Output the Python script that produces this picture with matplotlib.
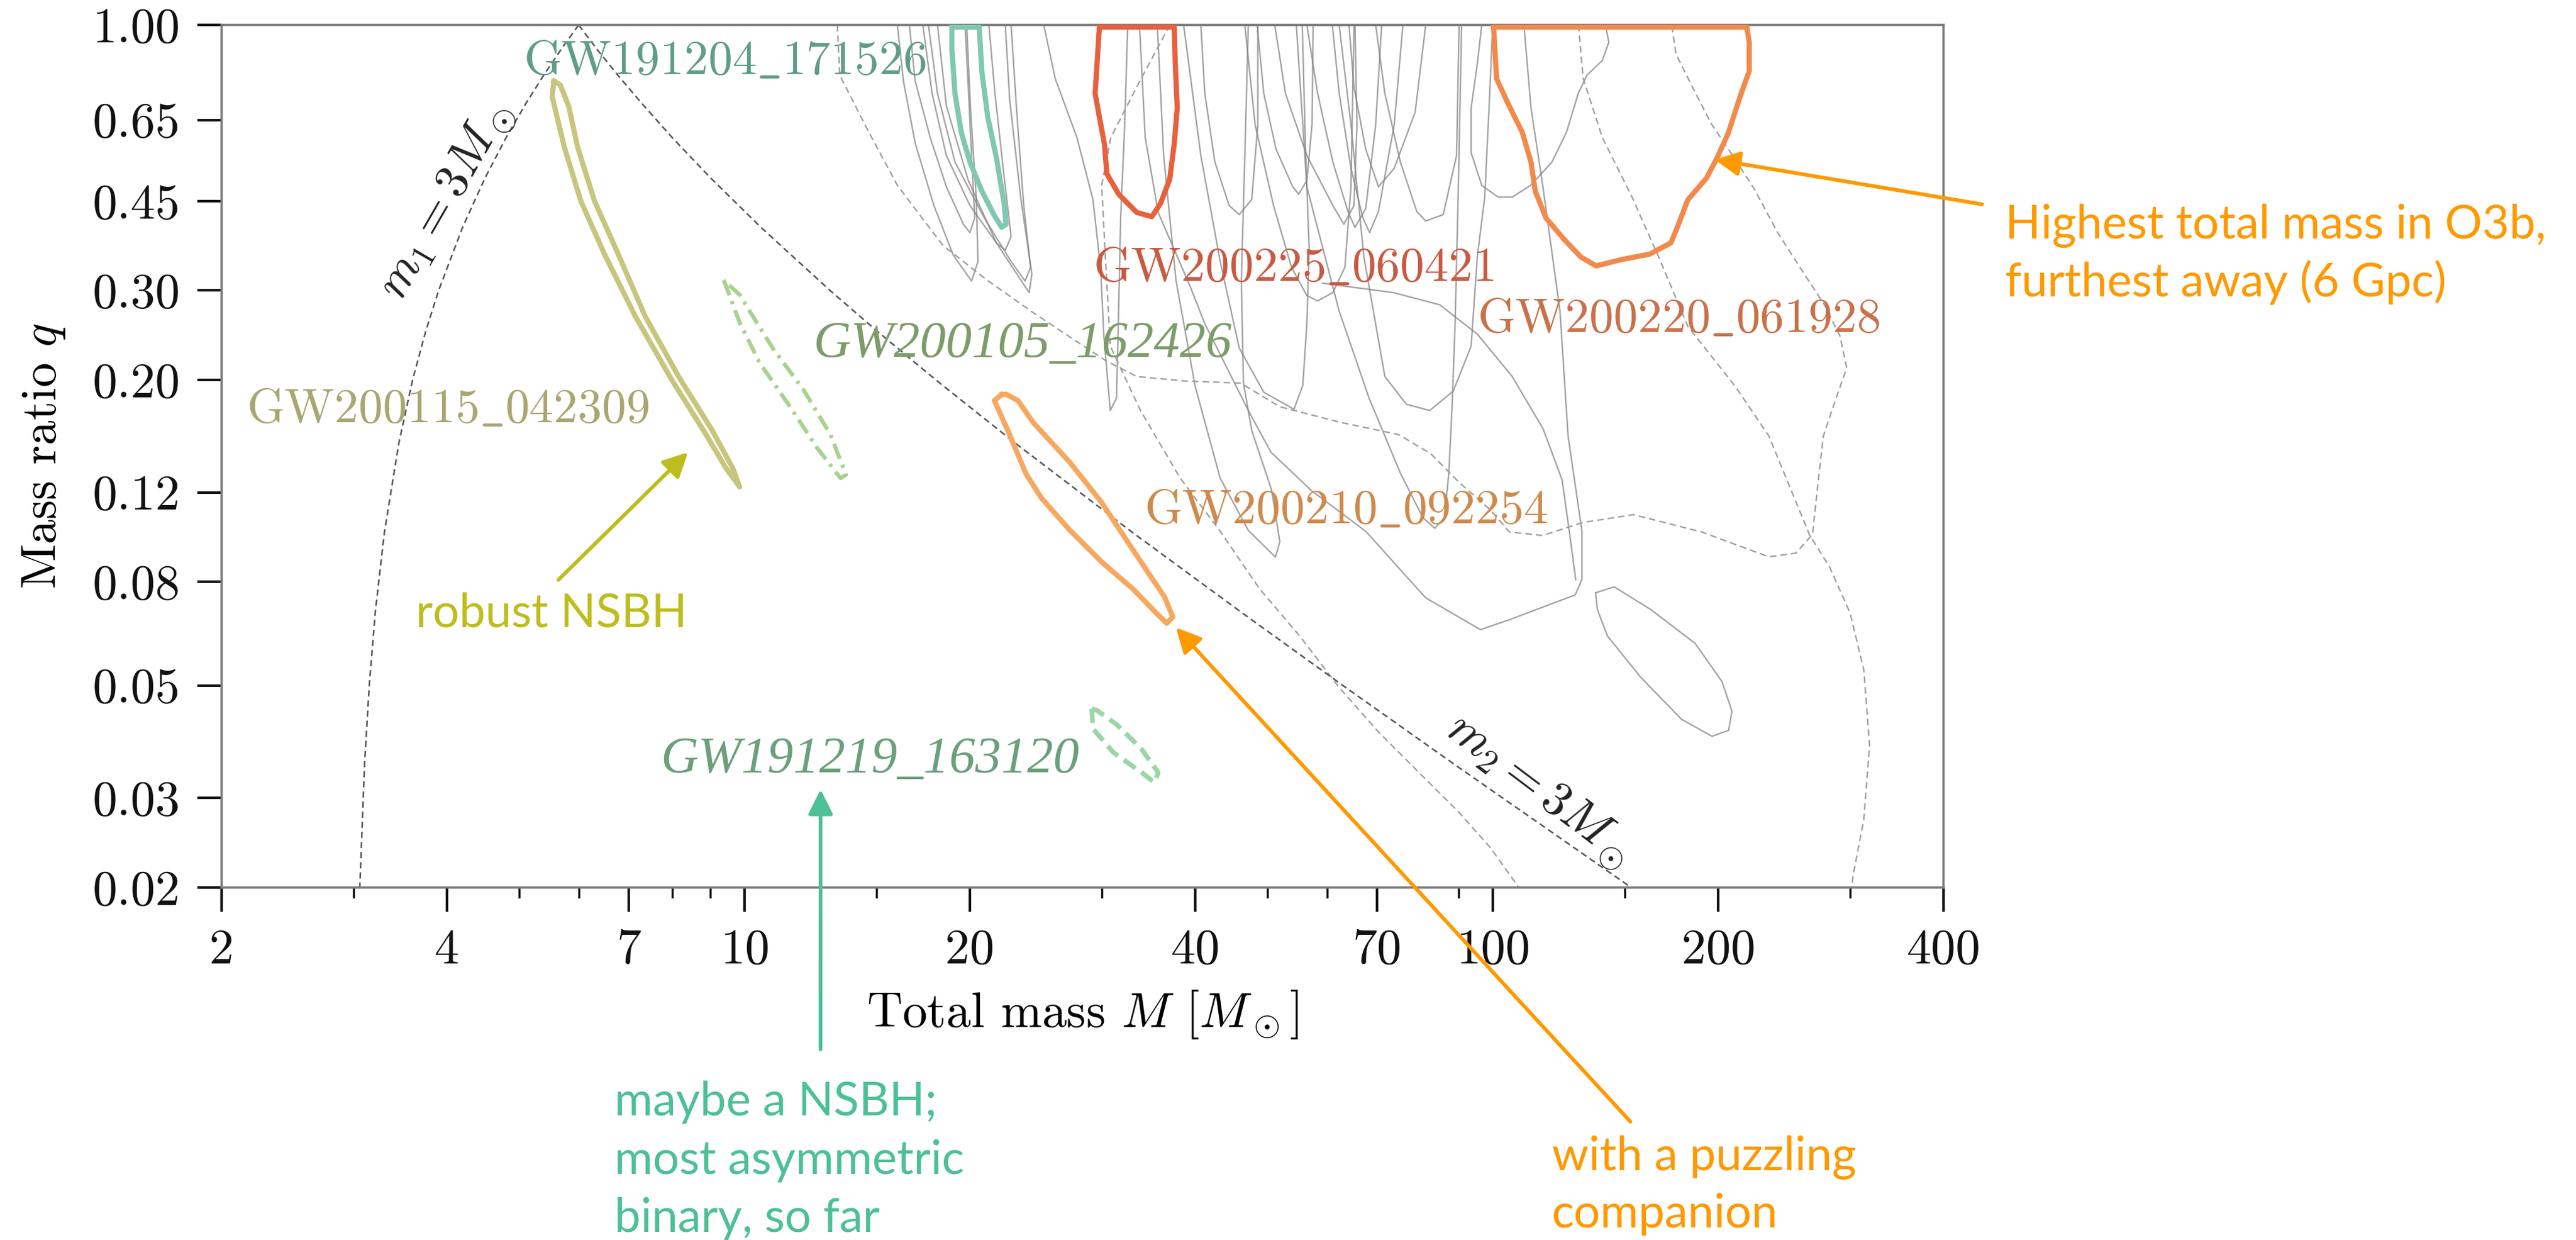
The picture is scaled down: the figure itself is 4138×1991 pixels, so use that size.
import matplotlib
matplotlib.use('Agg')
import matplotlib.pyplot as plt
from matplotlib.ticker import FixedLocator, FixedFormatter, NullLocator

plt.rcParams['font.family'] = 'serif'
plt.rcParams['font.serif'] = ['cmr10']
plt.rcParams['mathtext.fontset'] = 'cm'
plt.rcParams['axes.unicode_minus'] = False
plt.rcParams['axes.formatter.use_mathtext'] = True

# ---- axes ticks ----
x_ticks = [2, 4, 7, 10, 20, 40, 70, 100, 200, 400]
x_minor = [3, 5, 6, 8, 9, 15, 30, 50, 60, 90, 150, 300]
y_ticks = [0.02, 0.03, 0.05, 0.08, 0.12, 0.20, 0.30, 0.45, 0.65, 1.00]
y_ticklabels = ['0.02', '0.03', '0.05', '0.08', '0.12', '0.20', '0.30', '0.45', '0.65', '1.00']

# ---- m1 = 3 Msun and m2 = 3 Msun boundaries ----
bound_q = [1.0, 0.9, 0.8, 0.7, 0.6, 0.5, 0.4, 0.3, 0.25, 0.2, 0.15, 0.1, 0.07, 0.05, 0.035, 0.02]
m1_M = [6.0, 5.7, 5.4, 5.1, 4.8, 4.5, 4.2, 3.9, 3.75, 3.6, 3.45, 3.3, 3.21, 3.15, 3.105, 3.06]
m2_M = [6.0, 6.33, 6.75, 7.29, 8.0, 9.0, 10.5, 13.0, 15.0, 18.0, 23.0, 33.0, 45.9, 63.0, 88.7, 153.0]

# ---- highlighted 90% credible regions ----
gw200115_M = [5.56, 5.53, 5.74, 6.04, 6.50, 7.14, 7.99, 8.88, 9.44, 9.85, 9.64, 9.05, 8.16, 7.36, 6.78, 6.30, 5.98, 5.82, 5.67]
gw200115_q = [0.775, 0.723, 0.575, 0.450, 0.353, 0.267, 0.200, 0.156, 0.134, 0.123, 0.134, 0.159, 0.203, 0.267, 0.353, 0.450, 0.575, 0.691, 0.762]

gw200105_M = [9.38, 9.85, 10.47, 11.5, 12.49, 13.43, 13.66, 13.02, 11.99, 10.92, 10.25, 9.85]
gw200105_q = [0.314, 0.259, 0.216, 0.177, 0.147, 0.128, 0.130, 0.156, 0.191, 0.230, 0.267, 0.294]

gw191219_M = [29.1, 29.2, 31.1, 33.9, 35.3, 35.7, 33.9, 31.4, 29.6]
gw191219_q = [0.0450, 0.0411, 0.0369, 0.0337, 0.0322, 0.0337, 0.0375, 0.0419, 0.0446]

gw200210_M = [22.05, 21.56, 22.47, 23.77, 24.93, 27.18, 29.96, 33.04, 35.53, 36.65, 37.34, 36.42, 33.04, 29.96, 27.18, 24.32, 23.18, 22.35]
gw200210_q = [0.187, 0.182, 0.159, 0.1305, 0.1169, 0.1012, 0.0877, 0.0774, 0.0693, 0.0663, 0.0682, 0.0746, 0.0924, 0.1149, 0.1377, 0.1645, 0.1821, 0.1873]

gw191204_M = [18.92, 18.92, 19.1, 19.47, 20.0, 20.75, 21.56, 22.05, 22.35, 22.22, 21.71, 21.13, 20.75, 20.58]
gw191204_q = [0.99, 0.898, 0.733, 0.615, 0.537, 0.4705, 0.4213, 0.3994, 0.405, 0.4445, 0.545, 0.658, 0.807, 0.99]

gw200225_M = [29.79, 29.4, 29.79, 30.25, 30.48, 31.62, 33.42, 35.0, 35.94, 36.98, 37.5, 37.85, 37.62, 37.5]
gw200225_q = [0.99, 0.733, 0.658, 0.583, 0.509, 0.4637, 0.4272, 0.419, 0.4445, 0.4963, 0.583, 0.687, 0.839, 0.99]

gw200220_M = [100.2, 101.1, 104.5, 109.4, 112.4, 113.9, 117.7, 124.4, 131.2, 137.4, 148.1, 162.0, 172.9, 176.6, 182.1, 192.9, 198.8, 206.2, 213.8, 220.0, 220.0, 218.4]
gw200220_q = [0.99, 0.784, 0.705, 0.615, 0.537, 0.4705, 0.4166, 0.3784, 0.3486, 0.3352, 0.3447, 0.3537, 0.3722, 0.4016, 0.4521, 0.4992, 0.5433, 0.6117, 0.7207, 0.811, 0.924, 0.99]

# ---- remaining O3b events (grey, closed) ----
grey_solid = [
    ([16.0, 16.3, 16.9, 17.9, 19.0, 20.1, 20.5, 20.4, 20.05, 19.8],
     [1.0, 0.775, 0.585, 0.441, 0.352, 0.313, 0.342, 0.453, 0.673, 1.0]),
    ([16.6, 16.9, 17.7, 18.6, 19.6, 20.0, 20.3, 20.1, 19.9, 19.7],
     [1.0, 0.775, 0.6, 0.48, 0.405, 0.39, 0.417, 0.553, 0.754, 1.0]),
    ([17.3, 17.8, 18.6, 20.0, 21.7, 22.3, 22.7, 22.2, 21.6, 21.2],
     [1.0, 0.733, 0.553, 0.441, 0.372, 0.36, 0.383, 0.508, 0.733, 1.0]),
    ([17.6, 18.1, 19.1, 20.9, 22.7, 23.7, 24.1, 23.6, 23.1, 22.7],
     [1.0, 0.733, 0.537, 0.417, 0.342, 0.313, 0.333, 0.441, 0.673, 1.0]),
    ([18.1, 18.6, 19.9, 21.7, 23.4, 24.0, 24.2, 23.4, 22.6, 22.3],
     [1.0, 0.693, 0.494, 0.372, 0.314, 0.297, 0.323, 0.453, 0.713, 1.0]),
    ([25.1, 26.0, 27.8, 29.2, 29.9, 30.2, 30.8, 31.4, 31.6, 31.8, 32.2, 32.5],
     [1.0, 0.784, 0.6, 0.453, 0.332, 0.244, 0.174, 0.184, 0.273, 0.417, 0.636, 1.0]),
    ([33.7, 34.3, 35.7, 39.4, 41.2, 47.1, 50.5, 57.2, 67.6, 81.3, 96.2, 104.7, 128.8, 131.5, 131.5, 126.0, 122.9, 116.6, 112.4, 110.0],
     [1.0, 0.6, 0.427, 0.305, 0.258, 0.174, 0.144, 0.121, 0.1006, 0.0744, 0.0644, 0.0672, 0.0754, 0.0809, 0.1006, 0.155, 0.273, 0.48, 0.687, 1.0]),
    ([48.4, 49.4, 51.3, 54.0, 55.0, 56.4, 57.3, 57.5],
     [1.0, 0.733, 0.569, 0.48, 0.464, 0.494, 0.636, 1.0]),
    ([51.1, 52.8, 56.4, 61.1, 63.2, 65.2, 65.8, 65.4],
     [1.0, 0.733, 0.553, 0.441, 0.405, 0.441, 0.636, 1.0]),
    ([56.4, 58.3, 61.1, 64.0, 65.4, 67.6, 69.7, 71.0],
     [1.0, 0.733, 0.537, 0.429, 0.399, 0.435, 0.636, 1.0]),
    ([61.0, 62.3, 64.6, 67.0, 68.4, 70.3, 73.8, 75.8],
     [1.0, 0.733, 0.522, 0.417, 0.39, 0.429, 0.636, 1.0]),
    ([64.2, 65.2, 67.6, 70.3, 73.8, 78.7, 81.3],
     [1.0, 0.754, 0.569, 0.48, 0.522, 0.673, 1.0]),
    ([69.7, 71.7, 75.2, 79.1, 81.3, 85.8, 89.4, 90.1],
     [1.0, 0.733, 0.537, 0.429, 0.411, 0.423, 0.553, 1.0]),
    ([96.6, 95.3, 93.5, 93.5, 96.6, 101.6, 106.1, 112.3, 119.9, 125.4, 130.0, 133.5, 140.0, 142.8, 141.4],
     [1.0, 0.839, 0.687, 0.56, 0.483, 0.458, 0.458, 0.483, 0.537, 0.615, 0.733, 0.796, 0.851, 0.924, 1.0]),
    ([40.7, 41.2, 42.5, 44.4, 45.8, 47.6, 48.5, 48.5],
     [1.0, 0.733, 0.537, 0.441, 0.423, 0.453, 0.636, 1.0]),
    ([46.6, 48.1, 50.9, 53.8, 56.4, 58.3, 61.1, 63.4, 64.6, 65.2],
     [1.0, 0.636, 0.441, 0.333, 0.293, 0.286, 0.297, 0.333, 0.48, 1.0]),
    ([38.6, 40.7, 43.2, 45.8, 49.4, 54.2, 55.7, 56.4, 56.8, 56.2, 55.6],
     [1.0, 0.553, 0.342, 0.231, 0.189, 0.175, 0.195, 0.258, 0.362, 0.553, 1.0]),
    ([62.3, 64.6, 67.2, 69.4, 71.7, 76.6, 82.3, 88.5, 93.5, 95.3, 97.5, 99.0, 99.9],
     [1.0, 0.636, 0.35, 0.267, 0.203, 0.179, 0.174, 0.19, 0.233, 0.35, 0.458, 0.733, 1.0]),
    ([35.6, 36.3, 37.7, 40.0, 43.2, 47.1, 51.2, 51.9, 50.6, 47.6, 46.4, 46.1, 46.6, 47.1],
     [1.0, 0.553, 0.314, 0.194, 0.128, 0.101, 0.0895, 0.0959, 0.1213, 0.159, 0.197, 0.314, 0.553, 1.0]),
    ([54.6, 56.4, 62.3, 68.3, 75.2, 80.6, 83.6, 86.1, 87.3, 88.2, 89.0, 89.9, 90.8],
     [1.0, 0.48, 0.273, 0.184, 0.131, 0.107, 0.102, 0.107, 0.131, 0.179, 0.258, 0.48, 1.0]),
    ([137.1, 145.2, 162.6, 186.3, 202.3, 208.6, 206.5, 196.2, 178.6, 157.7, 142.2, 137.9],
     [0.0761, 0.0782, 0.0705, 0.0605, 0.0509, 0.0445, 0.0408, 0.0397, 0.0429, 0.0518, 0.0626, 0.0705]),
]
grey_arc_M = [59.2, 64.2, 73.6, 84.9, 95.3, 106.1, 116.7, 123.7, 126.7, 129.0]
grey_arc_q = [0.31, 0.305, 0.297, 0.281, 0.246, 0.203, 0.16, 0.127, 0.0987, 0.0808]

grey_dashed = [
    ([130.1, 132.0, 140.0, 153.4, 166.5, 182.1, 210.8, 233.7, 264.7, 282.0, 300.0, 313.0, 318.6, 313.0, 302.8, 301.6],
     [1.0, 0.784, 0.6, 0.458, 0.349, 0.255, 0.194, 0.155, 0.0992, 0.0853, 0.0695, 0.0537, 0.0381, 0.0272, 0.0211, 0.02]),
    ([13.3, 13.4, 14.65, 16.0, 18.4, 21.1, 24.4, 27.3, 30.4, 33.4, 38.6, 46.0, 51.9, 62.4, 74.8, 82.6, 89.9, 99.1, 105.2,
      116.5, 131.8, 154.1, 190.0, 233.7, 253.9, 267.3, 272.0, 276.4, 287.4, 297.0, 290.8, 277.3, 258.2, 240.1, 223.3,
      207.5, 195.6, 184.3, 175.6, 173.3],
     [1.0, 0.796, 0.615, 0.483, 0.368, 0.314, 0.27, 0.242, 0.218, 0.203, 0.199, 0.197, 0.177, 0.165, 0.156, 0.143, 0.126,
      0.111, 0.1003, 0.0987, 0.1047, 0.1085, 0.1003, 0.0896, 0.0911, 0.0992, 0.126, 0.155, 0.184, 0.211, 0.244, 0.281,
      0.33, 0.39, 0.476, 0.562, 0.64, 0.76, 0.876, 1.0]),
    ([37.0, 33.4, 30.85, 30.0, 30.3, 30.8, 33.8, 38.2, 43.2, 48.8, 55.2, 62.4, 70.4, 79.6, 89.9, 99.1, 108.3],
     [1.0, 0.754, 0.6, 0.483, 0.362, 0.233, 0.174, 0.128, 0.1006, 0.0774, 0.0625, 0.0494, 0.0404, 0.0337, 0.0282, 0.024, 0.02]),
]


def closed(vals):
    return list(vals) + [vals[0]]


fig = plt.figure(figsize=(41.38, 19.91), dpi=100)
ax = fig.add_axes([0.08603, 0.28428, 0.66844, 0.69563])
ax.set_xscale('log')
ax.set_yscale('log')
ax.set_xlim(2, 400)
ax.set_ylim(0.02, 1.0)

# background events
grey_kw = dict(color='#858585', lw=1.7, alpha=0.75, solid_joinstyle='round', zorder=1)
for M, q in grey_solid:
    ax.plot(closed(M), closed(q), **grey_kw)
ax.plot(grey_arc_M, grey_arc_q, **grey_kw)
for M, q in grey_dashed:
    ax.plot(M, q, color='#a0a0a0', lw=1.7, ls=(0, (4.5, 2.7)), zorder=1)

# component-mass boundaries
ax.plot(m1_M, bound_q, color='#555555', lw=1.8, ls=(0, (4, 2.5)), zorder=1.5)
ax.plot(m2_M, bound_q, color='#555555', lw=1.8, ls=(0, (4, 2.5)), zorder=1.5)
ax.text(4.0, 0.45, r'$m_1 = 3M_\odot$', rotation=60, rotation_mode='anchor',
        ha='center', va='center', fontsize=56, color='#222222')
ax.text(115, 0.0309, r'$m_2 = 3M_\odot$', rotation=-37, rotation_mode='anchor',
        ha='center', va='center', fontsize=56, color='#222222')

# highlighted events
hl_kw = dict(lw=6, solid_joinstyle='round', zorder=3)
ax.plot(closed(gw200115_M), closed(gw200115_q), color='#c8c67e', **hl_kw)
ax.plot(closed(gw200105_M), closed(gw200105_q), color='#a9d28f', lw=4.6,
        ls=(0, (4, 1.6, 0.8, 1.6)), zorder=3)
ax.plot(closed(gw191219_M), closed(gw191219_q), color='#9dd6a6', lw=5.5, ls=(0, (3, 1.5)), zorder=3)
ax.plot(closed(gw200210_M), closed(gw200210_q), color='#f7a860', **hl_kw)
ax.plot(closed(gw191204_M), closed(gw191204_q), color='#7fc8b2', **hl_kw)
ax.plot(closed(gw200225_M), closed(gw200225_q), color='#e8603c', **hl_kw)
ax.plot(closed(gw200220_M), closed(gw200220_q), color='#f28a4c', **hl_kw)

# event names
name_kw = dict(fontsize=56, ha='left', va='baseline', zorder=4)
ax.text(5.06, 0.80, r'$\mathrm{GW191204}\mathtt{\_}\mathrm{171526}$', color='#5f9d88', **name_kw)
ax.text(2.16, 0.165, r'$\mathrm{GW200115}\mathtt{\_}\mathrm{042309}$', color='#a9a771', **name_kw)
ax.text(29.2, 0.313, r'$\mathrm{GW200225}\mathtt{\_}\mathrm{060421}$', color='#c95a42', **name_kw)
ax.text(95.2, 0.2485, r'$\mathrm{GW200220}\mathtt{\_}\mathrm{061928}$', color='#c9714a', **name_kw)
ax.text(34.2, 0.1044, r'$\mathrm{GW200210}\mathtt{\_}\mathrm{092254}$', color='#cf8a4c', **name_kw)
ax.text(12.36, 0.222, 'GW200105_162426', family='Liberation Serif', style='italic',
        fontsize=60, color='#7d9c69', ha='left', va='baseline', zorder=4)
ax.text(7.72, 0.0337, 'GW191219_163120', family='Liberation Serif', style='italic',
        fontsize=60, color='#6ba07a', ha='left', va='baseline', zorder=4)

# axes styling
ax.xaxis.set_major_locator(FixedLocator(x_ticks))
ax.xaxis.set_major_formatter(FixedFormatter([str(v) for v in x_ticks]))
ax.xaxis.set_minor_locator(FixedLocator(x_minor))
ax.xaxis.set_minor_formatter(FixedFormatter([''] * len(x_minor)))
ax.yaxis.set_major_locator(FixedLocator(y_ticks))
ax.yaxis.set_major_formatter(FixedFormatter(y_ticklabels))
ax.yaxis.set_minor_locator(NullLocator())
ax.tick_params(which='major', direction='out', length=28, width=3, color='#111111',
               labelsize=57, pad=20, labelcolor='#111111')
ax.tick_params(which='minor', direction='out', length=12, width=2.5, color='#111111')
for sp in ax.spines.values():
    sp.set_color('#7a7a7a')
    sp.set_linewidth(2.6)

ax.set_xlabel(r'Total mass $M$ [$M_\odot$]', fontsize=57, va='baseline')
ax.xaxis.set_label_coords(0.5, -0.1617)
ax.set_ylabel(r'Mass ratio $q$', fontsize=57, va='center')
ax.yaxis.set_label_coords(-0.103, 0.5)

# slide annotations
orange = '#ff9900'
olive = '#bdbd1e'
teal = '#4dc095'
note_kw = dict(family='Lato', fontsize=54, ha='left', va='baseline')
fig.text(0.7784, 0.8076, 'Highest total mass in O3b,', color=orange, **note_kw)
fig.text(0.7784, 0.7609, 'furthest away (6 Gpc)', color=orange, **note_kw)
fig.text(0.1614, 0.4947, 'robust NSBH', color=olive, **note_kw)
fig.text(0.2385, 0.1009, 'maybe a NSBH;', color=teal, **note_kw)
fig.text(0.2385, 0.0537, 'most asymmetric', color=teal, **note_kw)
fig.text(0.2385, 0.0070, 'binary, so far', color=teal, **note_kw)
fig.text(0.6025, 0.0563, 'with a puzzling', color=orange, **note_kw)
fig.text(0.6025, 0.0100, 'companion', color=orange, **note_kw)

arrow_style = '-|>,head_length=0.8,head_width=0.4'
arrows = [
    ((197.9, 0.543), (3184, 1663), orange),
    ((8.40, 0.144), (897, 1060), olive),
    ((12.63, 0.0312), (1318, 306), teal),
    ((37.7, 0.065), (2619, 190), orange),
]
for tip, tail, col in arrows:
    ax.annotate('', xy=tip, xycoords='data', xytext=tail, textcoords='figure pixels',
                arrowprops=dict(arrowstyle=arrow_style, color=col, lw=4.3, shrinkA=0, shrinkB=0,
                                mutation_scale=30),
                annotation_clip=False, zorder=6)

fig.savefig('out.png', dpi=100)
